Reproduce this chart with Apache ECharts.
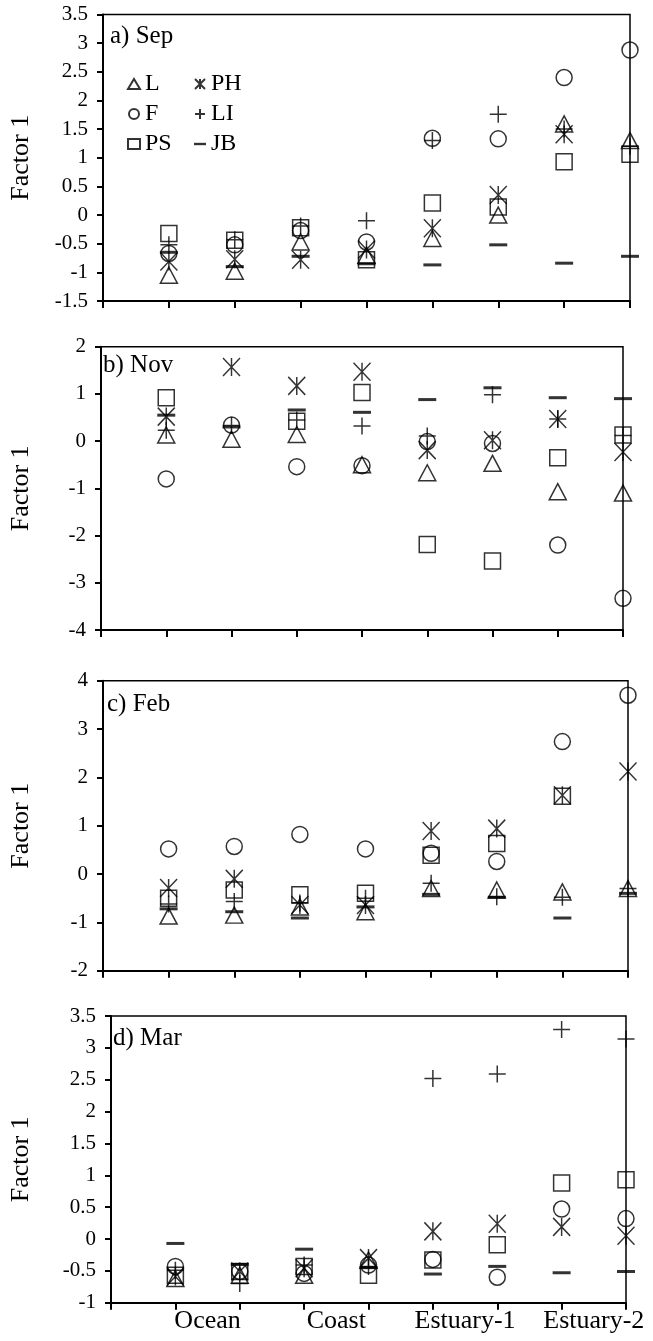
<!DOCTYPE html>
<html>
<head>
<meta charset="utf-8">
<script src="https://cdn.jsdelivr.net/npm/echarts@6/dist/echarts.min.js"></script>
<style>
html,body{margin:0;padding:0;background:#fff;}
#chart{width:653px;height:1341px;}
</style>
</head>
<body>
<div id="chart"></div>
<script>
// ---------------- data ----------------
const stations = [1, 2, 3, 4, 5, 6, 7, 8];
const siteLabels = ['Ocean', 'Coast', 'Estuary-1', 'Estuary-2'];
const panelLabels = ['a) Sep', 'b) Nov', 'c) Feb', 'd) Mar'];
const seriesNames = ['L', 'F', 'PS', 'PH', 'LI', 'JB'];
const yAxisName = 'Factor 1';

// a) Sep
const sepL  = [-1.05, -0.98, -0.47, -0.70, -0.41, 0.00, 1.59, 1.30];
const sepF  = [-0.67, -0.52, -0.27, -0.47, 1.34, 1.33, 2.40, 2.88];
const sepPS = [-0.32, -0.44, -0.22, -0.78, 0.21, 0.14, 0.93, 1.06];
const sepPH = [-0.81, -0.77, -0.78, -0.60, -0.23, 0.35, 1.41, null];
const sepLI = [-0.52, -0.43, -0.19, -0.10, 1.30, 1.76, 1.50, 1.20];
const sepJB = [-0.65, -0.90, -0.72, -0.85, -0.87, -0.52, -0.84, -0.72];
// b) Nov
const novL  = [0.13, 0.04, 0.14, -0.50, -0.67, -0.47, -1.07, -1.10];
const novF  = [-0.80, 0.34, -0.54, -0.52, -0.01, -0.05, -2.20, -3.33];
const novPS = [0.92, null, 0.42, 1.03, -2.19, -2.54, -0.35, 0.13];
const novPH = [0.52, 1.57, 1.17, 1.47, -0.19, 0.02, 0.47, -0.23];
const novLI = [0.23, 0.33, 0.45, 0.32, 0.11, 0.98, 0.47, 0.12];
const novJB = [0.55, 0.30, 0.66, 0.61, 0.88, 1.13, 0.92, 0.90];
// c) Feb
const febL  = [-0.87, -0.85, -0.68, -0.78, -0.30, -0.33, -0.37, -0.30];
const febF  = [0.52, 0.57, 0.82, 0.52, 0.43, 0.26, 2.74, 3.70];
const febPS = [-0.50, -0.33, -0.43, -0.40, 0.39, 0.63, 1.61, null];
const febPH = [-0.29, -0.10, -0.64, -0.64, 0.89, 0.94, 1.63, 2.12];
const febLI = [-0.62, -0.57, -0.60, -0.50, -0.19, -0.47, -0.48, -0.30];
const febJB = [-0.72, -0.78, -0.91, -0.68, -0.42, -0.48, -0.91, -0.40];
// d) Mar
const marL  = [-0.62, -0.57, -0.57, -0.33, null, null, null, null];
const marF  = [-0.43, -0.51, -0.54, -0.41, -0.32, -0.60, 0.47, 0.32];
const marPS = [-0.57, -0.51, -0.43, -0.57, -0.33, -0.09, 0.88, 0.93];
const marPH = [-0.59, -0.51, -0.46, -0.30, 0.12, 0.24, 0.19, 0.05];
const marLI = [-0.49, -0.70, -0.41, -0.43, 2.52, 2.59, 3.29, 3.14];
const marJB = [-0.07, -0.40, -0.16, -0.45, -0.55, -0.43, -0.53, -0.51];

// y axis ranges
const yMins = [-1.5, -4, -2, -1];
const yMaxs = [3.5, 2, 4, 3.5];
const yIntervals = [0.5, 1, 1, 0.5];

const panelData = [
  [sepL, sepF, sepPS, sepPH, sepLI, sepJB],
  [novL, novF, novPS, novPH, novLI, novJB],
  [febL, febF, febPS, febPH, febLI, febJB],
  [marL, marF, marPS, marPH, marLI, marJB]
];

// ---------------- layout & styles ----------------
const FONT = 'Liberation Serif';
const grids = [
  {left: 100, top: 14.5, width: 530, height: 286.5},
  {left: 98, top: 346.7, width: 525, height: 283.3},
  {left: 100, top: 680.7, width: 528, height: 290},
  {left: 108, top: 1016, width: 518, height: 286.7}
];
const titlePos = [
  {left: 110, top: 24},
  {left: 103, top: 353},
  {left: 107, top: 692},
  {left: 113, top: 1026}
];
const symbols = {
  L: 'triangle',
  F: 'circle',
  PS: 'rect',
  PH: 'path://M0 0L10 10M10 0L0 10M5 0L5 10',
  LI: 'path://M5 0L5 10M0 5L10 5',
  JB: 'path://M0 0L10 0L10 2L0 2Z'
};
const symbolSizes = {L: [17, 16], F: 16, PS: 16, PH: [17, 18], LI: 17, JB: [18, 3]};

const chart = echarts.init(document.getElementById('chart'), null, {renderer: 'canvas'});

const xAxes = [], yAxes = [], series = [], titles = [];
grids.forEach((g, i) => {
  xAxes.push({
    gridIndex: i, type: 'value', min: 0, max: 8, interval: 1, position: 'bottom',
    axisLine: {show: true, onZero: false, lineStyle: {color: '#000', width: 2}},
    axisTick: {show: true, inside: false, length: 7, lineStyle: {color: '#000', width: 2}},
    axisLabel: {show: false},
    splitLine: {show: false}
  });
  yAxes.push({
    gridIndex: i, type: 'value', min: yMins[i], max: yMaxs[i], interval: yIntervals[i],
    name: yAxisName, nameLocation: 'middle', nameRotate: 90, nameGap: g.left - 31,
    nameTextStyle: {fontFamily: FONT, fontSize: 26, color: '#000'},
    axisLine: {show: true, onZero: false, lineStyle: {color: '#000', width: 2}},
    axisTick: {show: true, inside: false, length: 6, lineStyle: {color: '#000', width: 2}},
    axisLabel: {fontFamily: FONT, fontSize: 21, color: '#000', margin: 15},
    splitLine: {show: false}
  });
  titles.push({
    text: panelLabels[i], left: titlePos[i].left, top: titlePos[i].top, padding: 0,
    textStyle: {fontFamily: FONT, fontSize: 25, fontWeight: 'normal', color: '#000'}
  });
  seriesNames.forEach((name, k) => {
    const vals = panelData[i][k];
    const data = [];
    stations.forEach((x, j) => { if (vals[j] != null) data.push([x, vals[j]]); });
    const filled = name === 'JB';
    series.push({
      name: name, type: 'scatter', xAxisIndex: i, yAxisIndex: i,
      symbol: symbols[name], symbolSize: symbolSizes[name],
      itemStyle: filled
        ? {color: '#000', borderWidth: 0}
        : {color: 'rgba(0,0,0,0)', borderColor: '#000', borderWidth: 1.5},
      emphasis: {disabled: true},
      silent: true,
      data: data
    });
  });
});

// site labels axis on the bottom panel (labels centred between station pairs)
const labelCentres = siteLabels.map((s, i) => (stations[2 * i] + stations[2 * i + 1]) / 2);
xAxes.push({
  gridIndex: 3, type: 'value', min: 0, max: 8, interval: 0.5, position: 'bottom',
  axisLine: {show: false}, axisTick: {show: false}, splitLine: {show: false},
  axisLabel: {
    fontFamily: FONT, fontSize: 26, color: '#000', margin: 5,
    showMinLabel: true, showMaxLabel: true,
    formatter: function (v) {
      const idx = labelCentres.findIndex(c => Math.abs(c - v) < 1e-6);
      return idx >= 0 ? siteLabels[idx] : '';
    }
  }
});

const legendText = {fontFamily: FONT, fontSize: 24, color: '#000', padding: [6, 0, 0, 0]};
chart.setOption({
  backgroundColor: '#fff',
  animation: false,
  title: titles,
  grid: grids.map(g => Object.assign({show: true, borderColor: '#000', borderWidth: 1.5, backgroundColor: 'transparent', containLabel: false}, g)),
  legend: [
    {data: seriesNames.slice(0, 3), orient: 'vertical', left: 122, top: 67, itemWidth: 12, itemHeight: 10, itemGap: 6, textStyle: legendText, selectedMode: false},
    {data: seriesNames.slice(3), orient: 'vertical', left: 189, top: 67, itemWidth: 12, itemHeight: 10, itemGap: 6, textStyle: legendText, selectedMode: false}
  ],
  xAxis: xAxes,
  yAxis: yAxes,
  series: series
});
</script>
</body>
</html>
